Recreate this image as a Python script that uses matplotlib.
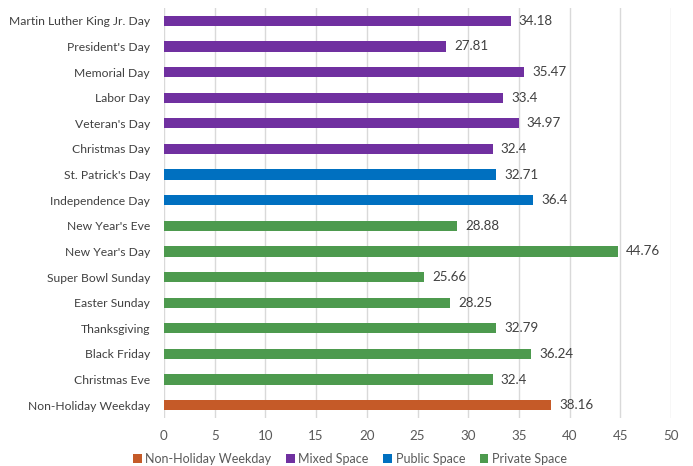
import matplotlib
matplotlib.use("Agg")
import matplotlib.pyplot as plt
from matplotlib.patches import Patch

categories = [
    "Martin Luther King Jr. Day", "President's Day", "Memorial Day", "Labor Day",
    "Veteran's Day", "Christmas Day", "St. Patrick's Day", "Independence Day",
    "New Year's Eve", "New Year's Day", "Super Bowl Sunday", "Easter Sunday",
    "Thanksgiving", "Black Friday", "Christmas Eve", "Non-Holiday Weekday",
]
values = [34.18, 27.81, 35.47, 33.4, 34.97, 32.4, 32.71, 36.4,
          28.88, 44.76, 25.66, 28.25, 32.79, 36.24, 32.4, 38.16]
groups = ["Mixed Space"] * 6 + ["Public Space"] * 2 + ["Private Space"] * 7 + ["Non-Holiday Weekday"]
legend_order = ["Non-Holiday Weekday", "Mixed Space", "Public Space", "Private Space"]
palette = {
    "Non-Holiday Weekday": "#C55A28",
    "Mixed Space": "#7030A0",
    "Public Space": "#0070C0",
    "Private Space": "#4D9A4E",
}
x_ticks = [0, 5, 10, 15, 20, 25, 30, 35, 40, 45, 50]

plt.rcParams["font.family"] = ["Lato", "DejaVu Sans"]

fig = plt.figure(figsize=(6.93, 4.66), dpi=100)
ax = fig.add_axes([164 / 693, 48 / 466, (671 - 164) / 693, (458 - 48) / 466])

y = list(range(len(categories)))
colors = [palette[g] for g in groups]
ax.barh(y, values, height=0.4, color=colors, zorder=3)

for yi, v in zip(y, values):
    ax.annotate(f"{v:g}", (v, yi), xytext=(6, 0), textcoords="offset points",
                va="center", ha="left", fontsize=9.6, color="#404040")

ax.set_yticks(y)
ax.set_yticklabels(categories, fontsize=8.7, color="#404040")
ax.set_ylim(len(categories) - 0.5, -0.5)
ax.set_xlim(0, 50)
ax.set_xticks(x_ticks)
ax.set_xticklabels([str(t) for t in x_ticks], fontsize=9.6, color="#595959")
ax.tick_params(axis="both", length=0)
ax.tick_params(axis="x", pad=9)
ax.tick_params(axis="y", pad=10)
ax.grid(axis="x", color="#D9D9D9", linewidth=1, zorder=0)
for s in ax.spines.values():
    s.set_visible(False)

handles = [Patch(facecolor=palette[g], edgecolor="none") for g in legend_order]
fig.legend(handles, legend_order, loc="center", bbox_to_anchor=(350 / 693, 1 - 459 / 466),
           ncol=4, frameon=False, fontsize=9.0, handlelength=0.7, handleheight=0.7,
           handletextpad=0.3, columnspacing=1.15, labelcolor="#595959")

fig.savefig("out.png", dpi=100)
